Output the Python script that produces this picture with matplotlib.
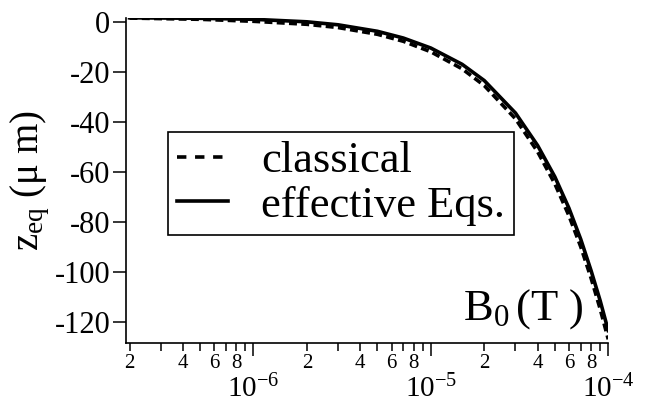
import numpy as np
import matplotlib
matplotlib.use('Agg')
import matplotlib.pyplot as plt
from matplotlib.lines import Line2D
from matplotlib.ticker import FixedLocator, FixedFormatter

plt.rcParams['font.family'] = ['Liberation Serif', 'DejaVu Serif']
plt.rcParams['mathtext.fontset'] = 'custom'
plt.rcParams['mathtext.rm'] = 'Liberation Serif'
plt.rcParams['mathtext.it'] = 'Liberation Serif'

# field B0 (T) and equilibrium position z_eq (um)
B0 = [2e-7, 5e-7, 1e-6, 2e-6, 3e-6, 5e-6, 7e-6, 1e-5, 1.5e-5, 2e-5,
      3e-5, 4e-5, 5e-5, 6e-5, 7e-5, 8e-5, 9e-5, 1e-4]
z_effective = [1.6, 1.4, 1.0, 0.0, -1.2, -3.8, -6.5, -10.5, -17.0, -23.5,
               -36.5, -49.5, -62.0, -74.5, -87.0, -99.5, -111.5, -123.5]
z_classical = [1.5, 1.0, 0.2, -1.0, -2.3, -5.0, -7.8, -12.0, -18.8, -25.5,
               -38.8, -52.0, -64.8, -77.5, -90.0, -102.5, -114.8, -127.0]

yticks = [0, -20, -40, -60, -80, -100, -120]
major_x = [1e-6, 1e-5, 1e-4]
major_lab = [r'$\mathregular{10^{-6}}$', r'$\mathregular{10^{-5}}$', r'$\mathregular{10^{-4}}$']

fig = plt.figure(figsize=(6.49, 4.05), dpi=100)
ax = fig.add_axes([0.1941, 0.1523, 0.7431, 0.8025])

lw = 2.6
ax.plot(B0, z_classical, color='k', linewidth=lw, linestyle=(0, (2.2, 1.2)))
ax.plot(B0, z_effective, color='k', linewidth=lw)

ax.set_xscale('log')
ax.set_xlim(1.91e-7, 1e-4)
ax.set_ylim(-128.6, 1.4)

ax.spines['right'].set_color('none')
ax.spines['top'].set_color('none')
for s in ['left', 'bottom']:
    ax.spines[s].set_linewidth(1.2)

ax.set_yticks(yticks)
ax.set_yticklabels([str(v) for v in yticks])
ax.tick_params(axis='y', which='major', direction='out', length=9.4, width=1.1,
               labelsize=22, pad=2)

# minor ticks 2..9 per decade, labels only on 2,4,6,8
minor_x = []
minor_lab = []
for dec in [1e-7, 1e-6, 1e-5]:
    for m in range(2, 10):
        minor_x.append(m * dec)
        minor_lab.append(str(m) if m % 2 == 0 else '')
ax.xaxis.set_major_locator(FixedLocator(major_x))
ax.xaxis.set_major_formatter(FixedFormatter(major_lab))
ax.xaxis.set_minor_locator(FixedLocator(minor_x))
ax.xaxis.set_minor_formatter(FixedFormatter(minor_lab))
ax.tick_params(axis='x', which='major', direction='out', length=9.4, width=1.1,
               labelsize=21, pad=13)
ax.tick_params(axis='x', which='minor', direction='out', length=5.5, width=1.1,
               labelsize=15, pad=2)

ax.set_ylabel(r'$\mathregular{z_{eq}}$ ($\mathregular{\mu}$ m)', fontsize=28, labelpad=2)

ax.text(0.9475, 0.0717, r'$\mathregular{B_0\,}$(T )', transform=ax.transAxes,
        ha='right', va='baseline', fontsize=32)

# legend keys drawn with longer dashes, like the original
h_cl = Line2D([], [], color='k', linewidth=lw, linestyle=(0, (2.6, 2.4)))
h_ef = Line2D([], [], color='k', linewidth=lw)
leg = ax.legend([h_cl, h_ef], ['classical', 'effective Eqs.'],
                loc='upper left', bbox_to_anchor=(0.087, 0.650), borderaxespad=0,
                fontsize=32, handlelength=1.15, handletextpad=0.75, borderpad=0.2,
                labelspacing=0.1, fancybox=False, framealpha=1)
leg.get_frame().set_edgecolor('k')
leg.get_frame().set_linewidth(1.2)

fig.savefig('out.png', dpi=100)
